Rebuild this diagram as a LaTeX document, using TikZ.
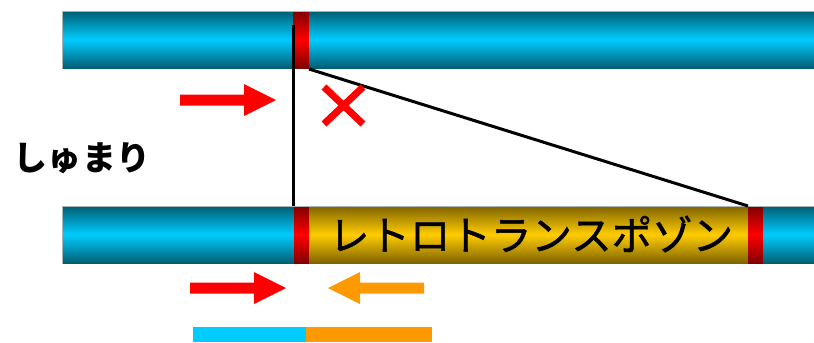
\documentclass[tikz,border=0pt]{standalone}
\usepackage{fontspec}
\newfontfamily\jp{Noto Sans CJK JP}
\newfontfamily\jpm[FakeBold=1.2]{Noto Sans CJK JP}
\definecolor{cyanmid}{RGB}{0,204,255}
\definecolor{cyandark}{RGB}{0,92,112}
\definecolor{redmid}{RGB}{255,0,0}
\definecolor{reddark}{RGB}{125,0,0}
\definecolor{yelmid}{RGB}{255,204,0}
\definecolor{yeldark}{RGB}{125,98,0}
\definecolor{orng}{RGB}{255,153,0}
\definecolor{edge}{RGB}{170,180,185}
\newcommand\gradband[5]{% x1, x2, ytop, mid colour, dark colour
  \foreach \i in {0,...,57}{
    \pgfmathsetmacro\tval{100*(1-abs(\i+0.5-29)/29)}
    \fill[#4!\tval!#5] (#1,#3+\i) rectangle (#2,#3+\i+1.1);
  }}
\tikzset{
  band/.style={rectangle, anchor=north west, inner sep=0pt, outer sep=0pt, minimum height=58bp},
  link/.style={black, line width=3bp},
  blockred/.style={fill=redmid},
  blockorange/.style={fill=orng},
}
\begin{document}
\begin{tikzpicture}[x=1bp, y=-1bp]
\useasboundingbox (0,0) rectangle (814,342);
% top chromosome
\gradband{62}{814}{11}{cyanmid}{cyandark}
\gradband{293}{309}{11}{redmid}{reddark}
\node[band, minimum width=752bp] (topbar) at (62,11) {};
\node[band, minimum width=16bp] (topband) at (293,11) {};
\draw[edge, line width=0.6bp] (62,69) -- (62,11) -- (814,11);
% bottom chromosome
\gradband{62}{814}{206}{cyanmid}{cyandark}
\gradband{309}{748}{206}{yelmid}{yeldark}
\gradband{294}{309}{206}{redmid}{reddark}
\gradband{748}{763}{206}{redmid}{reddark}
\node[band, minimum width=752bp] (botbar) at (62,206) {};
\node[band, minimum width=439bp] (retro) at (309,206) {};
\node[band, minimum width=15bp] (lband) at (294,206) {};
\node[band, minimum width=15bp] (rband) at (748,206) {};
\draw[edge, line width=0.6bp] (62,264) -- (62,206) -- (814,206);
\node[font=\jpm\fontsize{40.5bp}{40.5bp}\selectfont, inner sep=0pt] (label) at (531,234) {レトロトランスポゾン};
% connectors
\coordinate (vtop) at (293.5,25);
\draw[link] (vtop) -- (vtop |- lband.north);
\draw[link] (topband.south east) -- (rband.north west);
% left text
\node[font=\jp\bfseries\fontsize{34bp}{34bp}\selectfont, inner sep=0pt] (shumari) at (82,158) {しゅまり};
% arrows
\fill[blockred] (180,94.5) -- (244,94.5) -- (244,84) -- (276,100) -- (244,116) -- (244,105.5) -- (180,105.5) -- cycle;
\fill[blockred] (190,282.5) -- (254,282.5) -- (254,272) -- (286,288) -- (254,304) -- (254,293.5) -- (190,293.5) -- cycle;
\fill[blockorange] (424,282.5) -- (360,282.5) -- (360,272) -- (328,288) -- (360,304) -- (360,293.5) -- (424,293.5) -- cycle;
% cross
\draw[redmid, line width=7bp] (324,87) -- (363,124) (363,87) -- (324,124);
% bottom bars
\fill[cyanmid] (193,327) rectangle (306,342);
\fill[orng] (306,327) rectangle (432,342);
\end{tikzpicture}
\end{document}
